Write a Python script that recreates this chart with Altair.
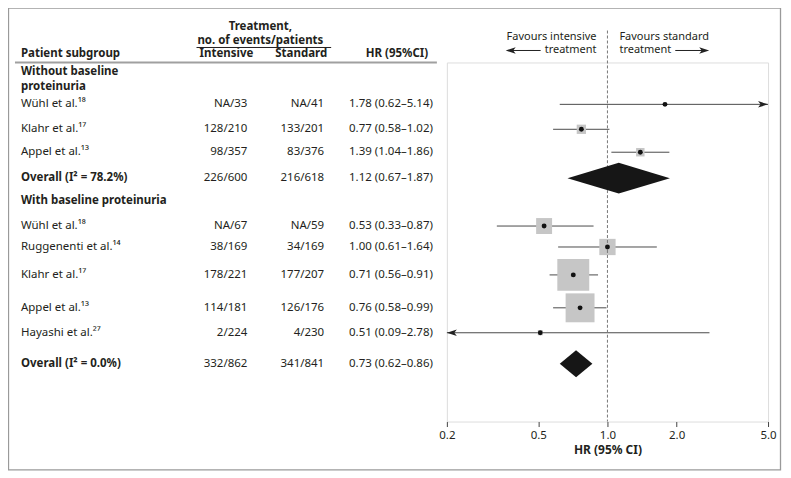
import altair as alt
import pandas as pd

# ---------------- data ----------------
names = ["Wühl et al.¹⁸", "Klahr et al.¹⁷", "Appel et al.¹³", "Overall (I² = 78.2%)",
         "Wühl et al.¹⁸", "Ruggenenti et al.¹⁴", "Klahr et al.¹⁷", "Appel et al.¹³",
         "Hayashi et al.²⁷", "Overall (I² = 0.0%)"]
intensive = ["NA/33", "128/210", "98/357", "226/600",
             "NA/67", "38/169", "178/221", "114/181", "2/224", "332/862"]
standard = ["NA/41", "133/201", "83/376", "216/618",
            "NA/59", "34/169", "177/207", "126/176", "4/230", "341/841"]
hr = [1.78, 0.77, 1.39, 1.12, 0.53, 1.00, 0.71, 0.76, 0.51, 0.73]
ci_low = [0.62, 0.58, 1.04, 0.67, 0.33, 0.61, 0.56, 0.58, 0.09, 0.62]
ci_high = [5.14, 1.02, 1.86, 1.87, 0.87, 1.64, 0.91, 0.99, 2.78, 0.86]
is_overall = [False, False, False, True, False, False, False, False, False, True]
weights = [1.0, 8.5, 7.0, 0.0, 25.0, 26.0, 100.0, 82.0, 2.5, 0.0]
ticks = [0.2, 0.5, 1.0, 2.0, 5.0]

# ---------------- layout (pixels in the panel) ----------------
ROW_Y = [42, 67, 90, 116, 164, 185, 213, 246, 271, 302]
FONT = "Noto Sans"
TXT = "#231f20"
FS = 11
TFS = 11.5

df = pd.DataFrame({
    "name": names, "intensive": intensive, "standard": standard,
    "hr": hr, "lo": ci_low, "hi": ci_high, "overall": is_overall,
    "w": weights, "ypos": ROW_Y,
})
df["label"] = [f"{h:.2f} ({l:.2f}–{u:.2f})" for h, l, u in zip(hr, ci_low, ci_high)]
df["clip_hi"] = df["hi"] > ticks[-1]
df["clip_lo"] = df["lo"] < ticks[0]

studies = df[~df["overall"]]
overall = df[df["overall"]]

dia_rows = []
for i, r in overall.iterrows():
    h = 15.5 if r["hr"] > 1 else 13.5
    dia_rows += [
        {"row": i, "x": r["lo"], "ya": r["ypos"], "yb": r["ypos"]},
        {"row": i, "x": r["hr"], "ya": r["ypos"] - h, "yb": r["ypos"] + h},
        {"row": i, "x": r["hi"], "ya": r["ypos"], "yb": r["ypos"]},
    ]
dia = pd.DataFrame(dia_rows)

xscale = alt.Scale(type="log", domain=[0.2, 5], clamp=True, nice=False)
yscale = alt.Scale(domain=[0, 360], reverse=True, nice=False, zero=False)
XT = "HR (95% CI)"
AX = alt.Axis(values=ticks, format=".1f", domain=False, grid=False, ticks=True,
              tickColor="#444", tickSize=5, tickWidth=1,
              labelFontSize=11.5, labelColor=TXT, labelFont=FONT,
              labelPadding=3, labelFlush=False, labelOverlap=False,
              titleFontSize=12, titleFontWeight="bold", titleColor=TXT,
              titleFont=FONT, titlePadding=4)
one = pd.DataFrame({"a": [0]})


def X(field):
    return alt.X(field, type="quantitative", scale=xscale, title=XT, axis=AX)


def Y(field):
    return alt.Y(field, type="quantitative", scale=yscale, axis=None)


# outer border
border = alt.Chart(one).mark_rect(fill="transparent", stroke="#9a9a9a", strokeWidth=1.3).encode(
    x=alt.value(-439.5), x2=alt.value(334.5), y=alt.value(-54.5), y2=alt.value(408.5))

# header lines
head_line = alt.Chart(one).mark_rule(color="#a0a0a0", strokeWidth=2).encode(
    x=alt.value(-433), x2=alt.value(-10), y=alt.value(0))
under_line = alt.Chart(one).mark_rule(color=TXT, strokeWidth=1).encode(
    x=alt.value(-251), x2=alt.value(-116), y=alt.value(-15))

# CI lines
ci = alt.Chart(studies).mark_rule(color="#4a4a4a", strokeWidth=1).encode(
    x=X("lo"), x2="hi", y=Y("ypos"))

# weight squares
squares = alt.Chart(studies).mark_square(color="#c6c6c6", opacity=1).encode(
    x=X("hr"), y=Y("ypos"),
    size=alt.Size("w:Q", scale=alt.Scale(domain=[0, 100], range=[0, 1024]), legend=None))

# reference line at HR = 1
ref = alt.Chart(one).mark_rule(color="#777", strokeWidth=1, strokeDash=[3, 2]).encode(
    x=X("v:Q"), y=alt.value(-32), y2=alt.value(360)
).transform_calculate(v="1")

# points
dots = alt.Chart(studies).mark_circle(color="#111", opacity=1, size=24).encode(
    x=X("hr"), y=Y("ypos"))

# diamonds
diamonds = alt.Chart(dia).mark_area(color="#161616", opacity=1, orient="vertical").encode(
    x=X("x"), y=Y("ya"), y2="yb", detail="row:N")

RIGHT_ARROW = "M0,0L-2,-0.65L-1.5,0L-2,0.65Z"
LEFT_ARROW = "M0,0L2,-0.65L1.5,0L2,0.65Z"
arr_r = alt.Chart(studies[studies["clip_hi"]]).mark_point(
    shape=RIGHT_ARROW, filled=True, color="#222", size=100, opacity=1).encode(
    x=X("hi"), y=Y("ypos"))
arr_l = alt.Chart(studies[studies["clip_lo"]]).mark_point(
    shape=LEFT_ARROW, filled=True, color="#222", size=100, opacity=1).encode(
    x=X("lo"), y=Y("ypos"))


def txt(data, col, x, align="left", bold=False):
    return alt.Chart(data).mark_text(
        align=align, baseline="middle", font=FONT, fontSize=TFS, color=TXT,
        fontWeight="bold" if bold else "normal").encode(
        x=alt.value(x), y=Y("ypos"), text=f"{col}:N")


names_norm = txt(studies, "name", -427)
names_bold = txt(overall, "name", -427, bold=True)
int_t = txt(df, "intensive", -200, align="right")
std_t = txt(df, "standard", -123, align="right")
hr_t = txt(df, "label", -14, align="right")


def label(s, x, y, align="left", bold=True, size=TFS):
    return alt.Chart(one).mark_text(
        text=s, align=align, baseline="middle", font=FONT, fontSize=size, color=TXT,
        fontWeight="bold" if bold else "normal").encode(x=alt.value(x), y=alt.value(y))


headers = [
    label("Treatment,", -187, -36, "center"),
    label("no. of events/patients", -187, -22, "center"),
    label("Patient subgroup", -427, -8),
    label("Intensive", -221, -8, "center"),
    label("Standard", -146, -8, "center"),
    label("HR (95%CI)", -50, -8, "center"),
    label("Without baseline", -427, 10),
    label("proteinuria", -427, 25),
    label("With baseline proteinuria", -427, 139),
    label("Favours intensive", 150, -26, "right", bold=False, size=FS),
    label("treatment", 150, -12, "right", bold=False, size=FS),
    label("Favours standard", 173, -26, "left", bold=False, size=FS),
    label("treatment", 173, -12, "left", bold=False, size=FS),
]

fav_l_line = alt.Chart(one).mark_rule(color="#222", strokeWidth=1).encode(
    x=alt.value(63), x2=alt.value(94), y=alt.value(-12))
fav_l_head = alt.Chart(one).mark_point(shape=LEFT_ARROW, filled=True, color="#222",
                                       size=100, opacity=1).encode(
    x=alt.value(59), y=alt.value(-12))
fav_r_line = alt.Chart(one).mark_rule(color="#222", strokeWidth=1).encode(
    x=alt.value(229), x2=alt.value(259), y=alt.value(-12))
fav_r_head = alt.Chart(one).mark_point(shape=RIGHT_ARROW, filled=True, color="#222",
                                       size=100, opacity=1).encode(
    x=alt.value(263), y=alt.value(-12))

chart = alt.layer(
    border, head_line, under_line, ci, squares, ref, dots, diamonds,
    arr_r, arr_l, names_norm, names_bold, int_t, std_t, hr_t, *headers,
    fav_l_line, fav_l_head, fav_r_line, fav_r_head,
).properties(
    width=322, height=360,
    autosize=alt.AutoSizeParams(type="none"),
    padding={"left": 440, "top": 54, "right": 15, "bottom": 52},
).configure_view(
    fill="#f2f2f2", stroke="#8c8c8c", strokeWidth=1,
).configure(font=FONT)

chart.save("out.html", embed_options={"renderer": "svg", "actions": False})
